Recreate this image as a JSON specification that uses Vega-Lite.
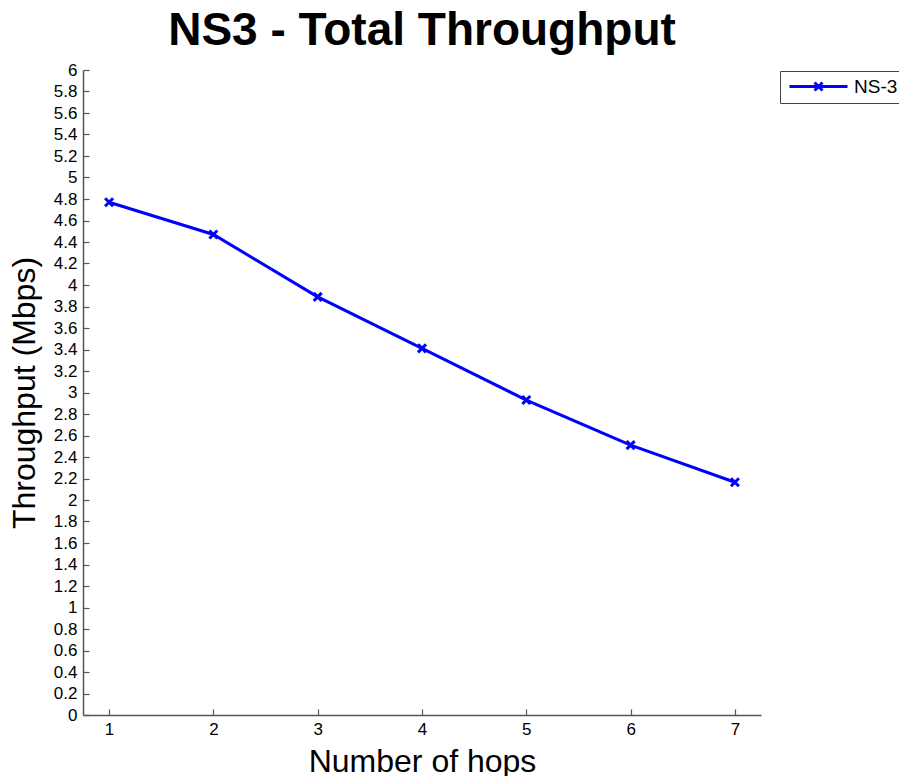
{
  "$schema": "https://vega.github.io/schema/vega-lite/v6.json",
  "autosize": "none",
  "width": 678,
  "height": 645,
  "padding": {"left": 83, "top": 70, "right": 138, "bottom": 61},
  "background": "white",
  "config": {
    "view": {"stroke": null},
    "font": "Liberation Sans",
    "axis": {
      "grid": false,
      "domainColor": "#555555",
      "domainWidth": 1.5,
      "tickColor": "#555555",
      "tickWidth": 1.2,
      "tickSize": -6,
      "labelFont": "Liberation Sans",
      "labelFontSize": 17,
      "labelColor": "black",
      "titleFont": "Liberation Sans",
      "titleFontSize": 32,
      "titleFontWeight": "normal",
      "titleColor": "black"
    }
  },
  "title": {
    "text": "NS3 - Total Throughput",
    "font": "Liberation Sans",
    "fontSize": 46,
    "fontWeight": "bold",
    "color": "black",
    "anchor": "middle",
    "offset": 6
  },
  "data": {
    "values": [
      {"hops": 1, "throughput": 4.77, "series": "NS-3"},
      {"hops": 2, "throughput": 4.47, "series": "NS-3"},
      {"hops": 3, "throughput": 3.89, "series": "NS-3"},
      {"hops": 4, "throughput": 3.41, "series": "NS-3"},
      {"hops": 5, "throughput": 2.93, "series": "NS-3"},
      {"hops": 6, "throughput": 2.51, "series": "NS-3"},
      {"hops": 7, "throughput": 2.165, "series": "NS-3"}
    ]
  },
  "encoding": {
    "x": {
      "field": "hops",
      "type": "quantitative",
      "scale": {"domain": [0.75, 7.25], "nice": false, "zero": false},
      "axis": {
        "title": "Number of hops",
        "values": [1, 2, 3, 4, 5, 6, 7],
        "format": "d",
        "labelPadding": 12,
        "titlePadding": 9
      }
    },
    "y": {
      "field": "throughput",
      "type": "quantitative",
      "scale": {"domain": [0, 6], "nice": false, "zero": true},
      "axis": {
        "title": "Throughput (Mbps)",
        "values": [0, 0.2, 0.4, 0.6, 0.8, 1, 1.2, 1.4, 1.6, 1.8, 2, 2.2, 2.4, 2.6, 2.8, 3, 3.2, 3.4, 3.6, 3.8, 4, 4.2, 4.4, 4.6, 4.8, 5, 5.2, 5.4, 5.6, 5.8, 6],
        "format": ".1~f",
        "labelPadding": 12,
        "titlePadding": 12
      }
    }
  },
  "layer": [
    {
      "mark": {"type": "line", "strokeWidth": 3},
      "encoding": {
        "color": {
          "field": "series",
          "type": "nominal",
          "scale": {"range": ["#0000ff"]},
          "legend": {
            "title": null,
            "orient": "none",
            "legendX": 697,
            "legendY": 1,
            "padding": 6,
            "strokeColor": "#444444",
            "fillColor": "white",
            "symbolType": "M-5.8,0L5.8,0M-0.8,-0.8L0.8,0.8M-0.8,0.8L0.8,-0.8",
            "symbolSize": 100,
            "symbolOffset": 23,
            "symbolStrokeWidth": 3,
            "symbolStrokeColor": "#0000ff",
            "labelFontSize": 19,
            "labelColor": "black",
            "labelOffset": 26
          }
        }
      }
    },
    {
      "mark": {
        "type": "point",
        "shape": "M-1,-1L1,1M-1,1L1,-1",
        "size": 64,
        "filled": false,
        "strokeWidth": 3,
        "color": "#0000ff",
        "opacity": 1
      },
      "encoding": {}
    }
  ]
}
